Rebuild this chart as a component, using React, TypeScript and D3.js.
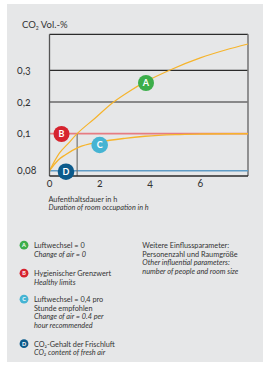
import * as d3 from "d3";

// Kurve A: Luftwechsel = 0
const aHours = [0, 0.4, 0.75, 1.1, 1.8, 2.5, 3.2, 3.85, 4.8, 6, 7, 7.9];
const aValues = [0.08, 0.0896, 0.0948, 0.1, 0.148, 0.197, 0.235, 0.265, 0.301, 0.339, 0.364, 0.383];

// Kurve C: Luftwechsel = 0,4 pro Stunde
const cHours = [0, 0.35, 0.62, 1.15, 2.0, 3.0, 3.8, 5, 6, 7.9];
const cValues = [0.08, 0.0858, 0.0885, 0.0926, 0.0955, 0.0975, 0.0986, 0.0995, 0.0998, 0.1];

const limitValue = 0.1; // B
const freshAirValue = 0.08; // D
const crossingHour = 1.1; // A trifft B

const yTicks = [0.08, 0.1, 0.2, 0.3];
const yTickLabels = ["0,08", "0,1", "0,2", "0,3"];
const xTicks = [0, 2, 4, 6];

const legendItems = [
  { key: "A", color: "#3cae4a", lines: ["Luftwechsel = 0"], italic: ["Change of air = 0"] },
  { key: "B", color: "#d6232e", lines: ["Hygienischer Grenzwert"], italic: ["Healthy limits"] },
  {
    key: "C",
    color: "#45b4d3",
    lines: ["Luftwechsel = 0,4 pro", "Stunde empfohlen"],
    italic: ["Change of air = 0.4 per", "hour recommended"],
  },
  { key: "D", color: "#0b5a8b", lines: ["CO₂-Gehalt der Frischluft"], italic: ["CO₂ content of fresh air"] },
];

const noteLines = ["Weitere Einflussparameter:", "Personenzahl und Raumgröße"];
const noteItalic = ["Other influential parameters:", "number of people and room size"];

const W = 265;
const H = 368;
const FONT = "Lato, 'Open Sans', sans-serif";

export default function App() {
  const x = d3.scaleLinear().domain([0, 7.9]).range([49.5, 248]);
  // nicht-lineare Achse wie im Original
  const y = d3
    .scaleLinear()
    .domain([0.0755, 0.08, 0.1, 0.2, 0.3, 0.4135])
    .range([176, 170.7, 133.7, 102, 70.3, 34.3]);

  const line = d3
    .line<[number, number]>()
    .x((d) => x(d[0]))
    .y((d) => y(d[1]))
    .curve(d3.curveMonotoneX);

  const aPath = line(aHours.map((h, i) => [h, aValues[i]]) as [number, number][]) || "";
  const cPath = line(cHours.map((h, i) => [h, cValues[i]]) as [number, number][]) || "";

  const [x0, x1] = x.range();
  const yBottom = y(0.0755);
  const yTop = y(0.4135);

  const badge = (cx: number, cy: number, r: number, color: string, label: string, fs: number) => (
    <g key={label + cx}>
      <circle cx={cx} cy={cy} r={r} fill={color} />
      <text
        x={cx}
        y={cy + fs * 0.36}
        textAnchor="middle"
        fill="#fff"
        fontWeight="bold"
        fontSize={fs}
        fontFamily={FONT}
      >
        {label}
      </text>
    </g>
  );

  const legendY = [248, 276, 302, 346.5];

  return (
    <svg width={W} height={H} style={{ position: "absolute", left: 0, top: 0 }}>
      <rect x={7} y={4} width={256} height={358} fill="#e6e7e8" />

      <text x={22} y={27.5} fontSize={9.5} fill="#333" fontFamily={FONT}>
        CO<tspan fontSize={5} dy={2}>2</tspan>
        <tspan dy={-2}> Vol.-%</tspan>
      </text>

      {/* Gitter */}
      {[0.2, 0.3].map((v) => (
        <line key={v} x1={x0} x2={x1} y1={y(v)} y2={y(v)} stroke="#2b2b2b" strokeWidth={1.2} />
      ))}
      <line x1={x0} x2={x1} y1={yTop} y2={yTop} stroke="#2b2b2b" strokeWidth={1.3} />
      <line x1={x1} x2={x1} y1={yTop} y2={yBottom} stroke="#7a7a7a" strokeWidth={1.6} />

      {/* D */}
      <line x1={x0} x2={x1} y1={y(freshAirValue)} y2={y(freshAirValue)} stroke="#5f9cc6" strokeWidth={1.6} />
      {/* B */}
      <line x1={x0} x2={x1} y1={y(limitValue)} y2={y(limitValue)} stroke="#e67c82" strokeWidth={1.8} />
      {/* Markierung */}
      <line
        x1={x(crossingHour)}
        x2={x(crossingHour)}
        y1={y(limitValue)}
        y2={yBottom}
        stroke="#6a6a6a"
        strokeWidth={1.1}
      />

      <path d={cPath} fill="none" stroke="#f6b42c" strokeWidth={1.4} />
      <path d={aPath} fill="none" stroke="#f6b42c" strokeWidth={1.2} />

      {/* Achsen */}
      <line x1={x0} x2={x0} y1={yTop} y2={yBottom} stroke="#555" strokeWidth={1.3} />
      <line x1={x0} x2={x1} y1={yBottom} y2={yBottom} stroke="#2b2b2b" strokeWidth={1.4} />

      {yTicks.map((v, i) => (
        <text
          key={v}
          x={17}
          y={y(v) + 3.5}
          fontSize={10.5}
          fill="#333"
          fontFamily={FONT}
          style={{ fontVariantNumeric: "oldstyle-nums" }}
        >
          {yTickLabels[i]}
        </text>
      ))}
      {xTicks.map((v) => (
        <text
          key={v}
          x={x(v)}
          y={186.5}
          fontSize={10.5}
          textAnchor="middle"
          fill="#333"
          fontFamily={FONT}
          style={{ fontVariantNumeric: "oldstyle-nums" }}
        >
          {v}
        </text>
      ))}

      <text x={48.5} y={201.5} fontSize={7.3} fill="#333" fontFamily={FONT}>
        Aufenthaltsdauer in h
      </text>
      <text x={48.5} y={210} fontSize={7.3} fill="#333" fontStyle="italic" fontFamily={FONT}>
        Duration of room occupation in h
      </text>

      {badge(146, 83, 8, "#3cae4a", "A", 9)}
      {badge(61.5, 134, 8, "#d6232e", "B", 9)}
      {badge(99.7, 145, 8.3, "#45b4d3", "C", 9)}
      {badge(66, 171.7, 8.3, "#0b5a8b", "D", 9)}

      {/* Legende */}
      {legendItems.map((item, i) => {
        const by = legendY[i];
        const all = [...item.lines.map((t) => ({ t, it: false })), ...item.italic.map((t) => ({ t, it: true }))];
        return (
          <g key={item.key}>
            {badge(24, by - 2.8, 4.4, item.color, item.key, 5.5)}
            {all.map((l, j) => (
              <text
                key={j}
                x={34}
                y={by + j * 8.5}
                fontSize={7.3}
                fill="#333"
                fontStyle={l.it ? "italic" : "normal"}
                fontFamily={FONT}
              >
                {l.t}
              </text>
            ))}
          </g>
        );
      })}

      {[...noteLines.map((t) => ({ t, it: false })), ...noteItalic.map((t) => ({ t, it: true }))].map((l, j) => (
        <text
          key={j}
          x={142.3}
          y={248 + j * 8.7}
          fontSize={7.3}
          fill="#333"
          fontStyle={l.it ? "italic" : "normal"}
          fontFamily={FONT}
        >
          {l.t}
        </text>
      ))}
    </svg>
  );
}
